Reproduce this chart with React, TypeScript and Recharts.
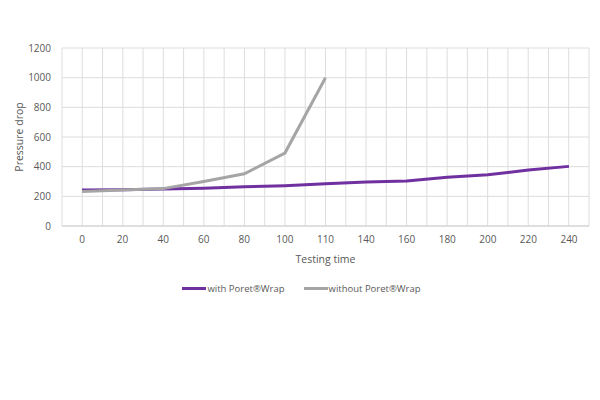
import { LineChart, Line, XAxis, YAxis, CartesianGrid, Legend } from 'recharts'

const times = ['0', '20', '40', '60', '80', '100', '110', '140', '160', '180', '200', '220', '240']
const withWrap = [243, 245, 250, 255, 265, 272, 285, 297, 303, 328, 345, 378, 402]
const withoutWrap: (number | null)[] = [232, 242, 252, 300, 352, 492, 1000, null, null, null, null, null, null]
const yTicks = [0, 200, 400, 600, 800, 1000, 1200]

const data = times.map((t, i) => ({ time: t, with: withWrap[i], without: withoutWrap[i] }))

const font = '"Open Sans", sans-serif'
const textColor = '#595959'

// grid lines at category edges and, lighter, at category centres
const gridLines = ({ offset }: any) => {
  const band = offset.width / times.length
  return Array.from({ length: times.length * 2 + 1 }, (_, i) => offset.left + (i * band) / 2)
}

const legendItems = [
  { label: 'with Poret®Wrap', color: '#7030A0' },
  { label: 'without Poret®Wrap', color: '#A5A5A5' },
]

function LegendContent() {
  return (
    <div style={{ display: 'flex', justifyContent: 'center', gap: 19, fontFamily: font, fontSize: 9.5, color: textColor, paddingLeft: 14 }}>
      {legendItems.map((it) => (
        <div key={it.label} style={{ display: 'flex', alignItems: 'center' }}>
          <span style={{ display: 'inline-block', width: 24, height: 3, background: it.color, marginRight: 1 }} />
          <span>{it.label}</span>
        </div>
      ))}
    </div>
  )
}

export default function App() {
  return (
    <div style={{ position: 'absolute', left: 0, top: 0, width: 600, height: 400, background: '#fff' }}>
      <LineChart width={600} height={400} data={data} margin={{ top: 48, right: 11, bottom: 134, left: 0 }}>
        <CartesianGrid verticalCoordinatesGenerator={gridLines} stroke="#dddddd" />
        <XAxis
          dataKey="time"
          padding={{ left: 20, right: 20 }}
          height={40}
          tick={{ fill: textColor, fontSize: 10, fontFamily: font }}
          tickLine={false}
          tickSize={0}
          tickMargin={10}
          axisLine={{ stroke: '#d0d0d0' }}
          label={{ value: 'Testing time', position: 'insideBottom', offset: 3, fill: textColor, fontSize: 10.5, fontFamily: font }}
        />
        <YAxis
          domain={[0, 1200]}
          ticks={yTicks}
          width={62}
          tick={{ fill: textColor, fontSize: 10, fontFamily: font }}
          tickLine={false}
          axisLine={false}
          tickSize={0}
          tickMargin={11}
          label={{
            value: 'Pressure drop',
            angle: -90,
            position: 'insideLeft',
            offset: 19,
            fill: textColor,
            fontSize: 10.5,
            fontFamily: font,
            style: { textAnchor: 'middle' },
          }}
        />
        <Legend verticalAlign="middle" align="center" wrapperStyle={{ top: 282 }} content={<LegendContent />} />
        <Line dataKey="with" stroke="#7030A0" strokeWidth={3} dot={false} isAnimationActive={false} />
        <Line dataKey="without" stroke="#A5A5A5" strokeWidth={3} dot={false} isAnimationActive={false} />
      </LineChart>
    </div>
  )
}
